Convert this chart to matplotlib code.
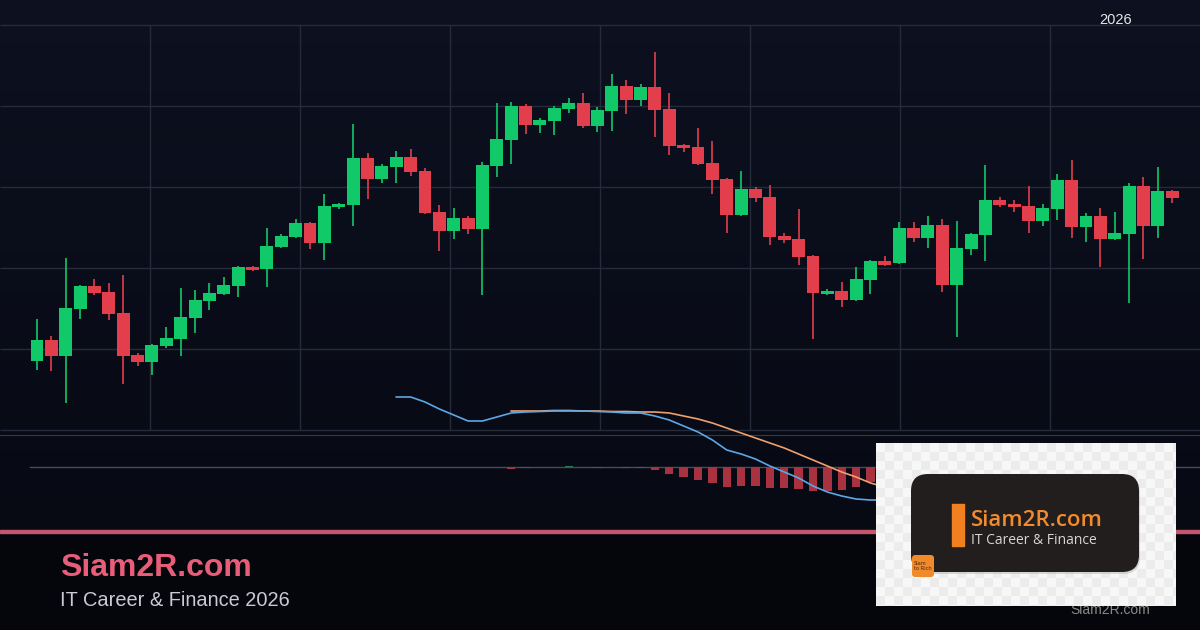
import numpy as np
import matplotlib.pyplot as plt
from matplotlib.patches import Rectangle, FancyBboxPatch

# candle data
opens = [108.52, 111.11, 109.14, 114.94, 117.78, 117.04, 114.44, 109.26, 108.40, 110.37,
         111.23, 113.83, 115.93, 116.79, 117.78, 120.12, 119.88, 122.59, 123.83, 125.56,
         123.09, 127.53, 127.78, 133.58, 130.99, 132.47, 133.70, 131.98, 126.91, 124.57,
         126.17, 124.81, 132.59, 135.80, 140.00, 137.65, 138.15, 139.63, 140.37, 137.53,
         139.38, 142.47, 140.74, 142.35, 139.63, 135.19, 134.94, 132.96, 130.99, 126.54,
         129.75, 128.77, 123.95, 123.58, 121.48, 116.79, 117.16, 116.05, 118.52, 120.86,
         120.62, 124.94, 123.70, 125.31, 117.90, 122.35, 124.07, 128.40, 127.90, 127.65,
         125.80, 127.28, 130.86, 125.06, 126.42, 123.58, 124.20, 130.12, 125.19, 129.51]
highs = [113.70, 111.60, 121.23, 117.90, 118.64, 118.15, 119.14, 109.51, 110.62, 112.72,
         117.53, 117.28, 118.15, 118.89, 120.20, 120.25, 124.94, 124.20, 126.05, 125.68,
         129.14, 128.02, 137.78, 134.20, 132.84, 134.44, 134.69, 132.35, 127.78, 127.41,
         126.42, 133.09, 140.37, 140.49, 140.25, 138.52, 140.00, 140.99, 141.60, 139.88,
         143.95, 143.21, 142.72, 146.67, 141.60, 135.31, 137.28, 135.68, 131.10, 131.98,
         130.00, 130.25, 124.32, 127.28, 121.60, 117.41, 118.27, 120.12, 121.00, 121.48,
         125.68, 125.68, 126.42, 126.05, 125.80, 124.32, 132.72, 128.77, 128.40, 130.12,
         127.90, 131.60, 133.33, 126.79, 127.41, 126.91, 130.49, 131.23, 132.47, 129.60]
lows = [107.41, 107.28, 103.33, 113.70, 116.67, 113.58, 105.68, 107.90, 106.79, 110.12,
        109.14, 111.98, 114.81, 116.67, 116.42, 119.63, 117.65, 122.47, 123.70, 122.35,
        120.99, 127.28, 125.19, 128.52, 130.49, 130.49, 131.36, 126.67, 122.10, 123.58,
        124.20, 116.67, 131.23, 132.84, 136.54, 136.67, 136.42, 139.14, 137.28, 136.79,
        136.91, 139.01, 140.00, 136.17, 133.95, 134.32, 132.70, 129.14, 124.32, 126.40,
        128.15, 122.84, 123.09, 120.37, 111.23, 116.67, 115.19, 115.93, 116.79, 120.25,
        120.49, 123.21, 122.47, 117.04, 111.48, 121.60, 120.86, 127.53, 126.91, 124.32,
        125.19, 125.93, 123.70, 123.21, 120.12, 123.45, 115.68, 121.11, 123.70, 128.02]
closes = [111.11, 109.14, 115.06, 117.78, 116.91, 114.32, 109.14, 108.40, 110.49, 111.36,
          113.95, 116.05, 116.91, 117.90, 120.12, 119.75, 122.72, 123.95, 125.56, 123.09,
          127.65, 127.90, 133.58, 130.99, 132.59, 133.70, 131.85, 126.79, 124.57, 126.17,
          124.81, 132.72, 135.93, 140.00, 137.65, 138.27, 139.75, 140.37, 137.53, 139.51,
          142.47, 140.74, 142.35, 139.51, 135.06, 134.81, 132.84, 130.86, 126.54, 129.75,
          128.64, 123.83, 123.46, 121.36, 116.91, 117.16, 116.05, 118.64, 120.86, 120.37,
          124.94, 123.70, 125.31, 117.90, 122.47, 124.20, 128.40, 127.78, 127.53, 125.80,
          127.41, 130.86, 125.06, 126.42, 123.58, 124.32, 130.12, 125.19, 129.51, 128.64]

# MACD pane
macd_start = 25
macd_line = [7.0, 7.0, 6.5, 5.8, 5.2, 4.6, 4.6, 5.0, 5.4, 5.5,
             5.55, 5.6, 5.6, 5.6, 5.55, 5.5, 5.4, 5.4, 5.1, 4.7,
             4.1, 3.5, 2.7, 1.7, 1.3, 0.8, 0.1, -0.5, -1.1, -1.9,
             -2.5, -2.9, -3.2, -3.3, -3.3]
signal_start = 33
signal_line = [5.6, 5.6, 5.6, 5.65, 5.65, 5.6, 5.6, 5.55, 5.55, 5.5,
               5.5, 5.4, 5.1, 4.8, 4.4, 3.9, 3.4, 2.9, 2.4, 1.9,
               1.3, 0.7, 0.1, -0.5, -1.0, -1.6, -2.0]
hist = [-0.2, -0.1, 0.0, 0.0, 0.1, 0.0, -0.1, 0.0, -0.1, -0.1,
        -0.3, -0.7, -1.0, -1.3, -1.6, -2.0, -1.9, -1.9, -2.1, -2.1,
        -2.2, -2.4, -2.4, -2.3, -2.0, -1.5, -1.2]

GREEN = "#12c96a"
RED = "#e23e4b"
GRID = "#262b3b"
W, H = 1200, 630


def px_rect(x0, y0, x1, y1):
    return [x0 / W, 1 - y1 / H, (x1 - x0) / W, (y1 - y0) / H]


fig = plt.figure(figsize=(12, 6.3), dpi=100)
fig.patch.set_facecolor("#0a0e1a")

# background gradient
bg = fig.add_axes([0, 0, 1, 1], zorder=-5)
grad = np.linspace(0, 1, 256)[:, None]
top = np.array([0x0d, 0x11, 0x20]) / 255
bot = np.array([0x06, 0x08, 0x11]) / 255
img = top + (bot - top) * grad[..., None]
bg.imshow(np.repeat(img, 2, axis=1), aspect="auto", extent=[0, 1, 0, 1])
bg.axis("off")

# x limits: candle i sits at pixel 37 + 14.37*i
step = 14.37
x0px = 37
xlim = (-x0px / step, (W - x0px) / step)

ax = fig.add_axes(px_rect(0, 25, W, 430))
ax.set_facecolor("none")
ax.set_xlim(*xlim)
ax.set_ylim(100, 150)
for s in ax.spines.values():
    s.set_visible(False)
ax.set_xticks([])
ax.set_yticks([])

grid_x = (np.arange(150, 1051, 150) - x0px) / step
ax.hlines(np.arange(100, 151, 10), xlim[0], xlim[1], color=GRID, lw=1, clip_on=False, zorder=0)
ax.vlines(grid_x, 100, 150, color=GRID, lw=1, clip_on=False, zorder=0)

o = np.array(opens)
h = np.array(highs)
l = np.array(lows)
c = np.array(closes)
x = np.arange(len(o))
cols = np.where(c >= o, GREEN, RED)
ax.vlines(x, l, h, colors=cols, lw=1.2, zorder=2)
body = np.maximum(np.abs(c - o), 0.3)
ax.bar(x, body, bottom=np.minimum(o, c), width=0.9, color=cols, zorder=3, clip_on=False)

# MACD pane
ax2 = fig.add_axes(px_rect(0, 435, W, 530))
ax2.set_facecolor("none")
ax2.set_xlim(*xlim)
ax2.set_ylim(-6.3, 3.2)
for k, s in ax2.spines.items():
    s.set_visible(k == "top")
ax2.spines["top"].set_color("#343949")
ax2.set_xticks([])
ax2.set_yticks([])
ax2.axhline(0, xmin=30 / W, color="#454c5d", lw=1, zorder=1)

hx = np.arange(signal_start, signal_start + len(hist))
hv = np.array(hist)
ax2.bar(hx, hv, width=0.58, color=np.where(hv >= 0, "#1f7d55", "#a8323f"), zorder=2)
ax2.plot(np.arange(signal_start, signal_start + len(signal_line)), signal_line,
         color="#f0a06c", lw=1.2, clip_on=False, zorder=3)
ax2.plot(np.arange(macd_start, macd_start + len(macd_line)), macd_line,
         color="#5aa8e6", lw=1.2, clip_on=False, zorder=4)

# footer
fig.patches.append(Rectangle((0, 0), 1, (H - 533) / H, transform=fig.transFigure,
                             color="#05060b", zorder=1))
fig.patches.append(Rectangle((0, (H - 533) / H), 1, 3 / H, transform=fig.transFigure,
                             color="#c4566e", zorder=2))
fig.text(60 / W, 1 - 568 / H, "Siam2R.com", color="#e85d7a", fontsize=23,
         fontweight="bold", family="Liberation Sans", va="center", zorder=3)
fig.text(60 / W, 1 - 600 / H, "IT Career & Finance 2026", color="#c9cbd3", fontsize=14.4,
         family="Liberation Sans", va="center", zorder=3)
fig.text(1116 / W, 1 - 20 / H, "2026", color="#e6e6e6", fontsize=10.5,
         family="Liberation Sans", ha="center", va="center", zorder=3)
fig.text(1110 / W, 1 - 610 / H, "Siam2R.com", color="#8a8a8a", fontsize=10,
         family="Liberation Sans", ha="center", va="center", zorder=3)

# logo card
lg = fig.add_axes(px_rect(876, 443, 1176, 606), zorder=10)
lg.set_xlim(0, 300)
lg.set_ylim(163, 0)
lg.axis("off")
yy, xx = np.indices((163, 300))
checker = np.where(((xx // 9) + (yy // 9)) % 2 == 0, 0.965, 0.925)
lg.imshow(checker, cmap="gray", vmin=0, vmax=1, extent=[0, 300, 163, 0], aspect="auto")
lg.add_patch(FancyBboxPatch((36, 33), 228, 98, boxstyle="round,pad=0,rounding_size=17",
                            facecolor="#9a9a9a", edgecolor="none", alpha=0.35))
lg.add_patch(FancyBboxPatch((35, 31), 228, 98, boxstyle="round,pad=0,rounding_size=17",
                            facecolor="#221e1d", edgecolor="none"))
lg.add_patch(Rectangle((76, 61), 12, 42, color="#f08020"))
lg.text(95, 78, "Siam2R.com", color="#f28a2e", fontsize=16, family="Open Sans",
        fontweight="semibold", va="center")
lg.text(95, 98, "IT Career & Finance", color="#d6d6d6", fontsize=10, family="Open Sans",
        va="center")
lg.add_patch(FancyBboxPatch((36, 112), 22, 22, boxstyle="round,pad=0,rounding_size=3",
                            facecolor="#f08a2a", edgecolor="none"))
lg.text(38, 123, "Siam\nto Rich", color="#4a2a10", fontsize=3.6, family="DejaVu Sans",
        va="center", linespacing=1.1)

fig.savefig("out.png", dpi=100, facecolor=fig.get_facecolor())
